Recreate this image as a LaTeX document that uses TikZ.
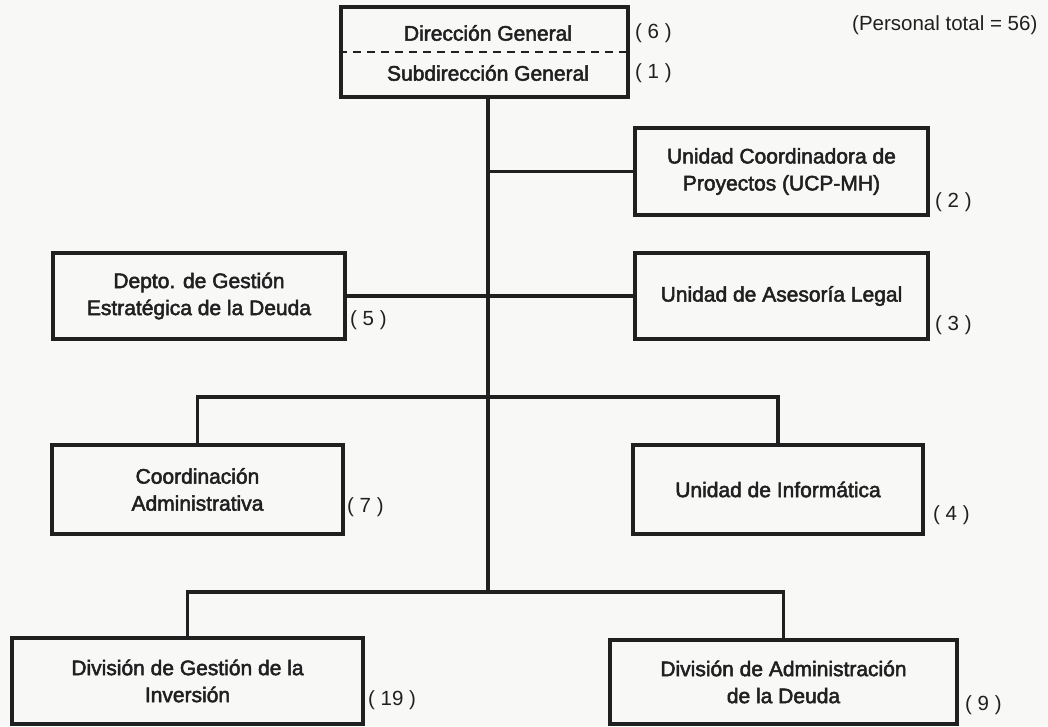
\documentclass[tikz,border=0pt]{standalone}
\usepackage{fontspec}
\setmainfont{Liberation Sans}
\newfontfamily\boxfont{Liberation Sans}[FakeBold=2.4]
\definecolor{ink}{HTML}{202020}
\definecolor{paper}{HTML}{F8F8F7}

\begin{document}
\begin{tikzpicture}[x=1pt,y=-1pt,
  unit/.style={draw=ink, line width=3.4pt, align=center, inner sep=0pt,
    font=\boxfont\fontsize{21}{27}\selectfont, text=ink},
  label/.style={inner sep=0pt, align=center,
    font=\boxfont\fontsize{21}{27}\selectfont, text=ink},
  count/.style={anchor=west, inner sep=0pt,
    font=\fontsize{20.5}{24}\selectfont, text=ink},
  link/.style={draw=ink, line width=3.4pt}]
\fill[paper] (0,0) rectangle (1048,726);
\useasboundingbox (0,0) rectangle (1048,726);

% direction
\node[unit, minimum width=287pt, minimum height=90pt] (dg) at (484.5,52) {};
\node[label] (dir) at (488,33) {Dirección General};
\node[label] (sub) at (488,73) {Subdirección General};
\draw[ink, line width=1.6pt, dash pattern=on 8pt off 6pt] (dg.west) -- (dg.east);
\node[count] (n6) at (635,33) {( 6 )};
\node[count] (n1) at (635,73) {( 1 )};
\node[count] (total) at (852,25) {(Personal total = 56)};

% staff units
\node[unit, minimum width=293pt, minimum height=87pt] (ucp) at (781.5,171.5)
  {Unidad Coordinadora de\\Proyectos (UCP-MH)};
\node[unit, minimum width=293pt, minimum height=86pt] (legal) at (781.5,296)
  {Unidad de Asesoría Legal};
\node[unit, minimum width=292pt, minimum height=86pt] (depto) at (199,296)
  {Depto. de Gestión\\Estratégica de la Deuda};
\node[count] (n2) at (935,202) {( 2 )};
\node[count] (n3) at (935,325) {( 3 )};
\node[count] (n5) at (350,320) {( 5 )};

\node[unit, minimum width=291pt, minimum height=89pt] (coord) at (197.5,489.5)
  {Coordinación\\Administrativa};
\node[unit, minimum width=290pt, minimum height=89pt] (info) at (778,489.5)
  {Unidad de Informática};
\node[count] (n7) at (347,507) {( 7 )};
\node[count] (n4) at (933,515) {( 4 )};

% line divisions
\node[unit, minimum width=351pt, minimum height=86pt] (invers) at (187.5,681)
  {División de Gestión de la\\Inversión};
\node[unit, minimum width=347pt, minimum height=84pt] (admin) at (783.5,682)
  {División de Administración\\de la Deuda};
\node[count] (n19) at (368,700) {( 19 )};
\node[count] (n9) at (965,705) {( 9 )};

% connectors
\coordinate (tb) at (488,592);
\coordinate (b1) at (488,397);
\draw[link] (dg.south -| tb) -- (tb);
\draw[link] (ucp.west) -- (ucp.west -| tb);
\draw[link] (depto.east) -- (legal.west);
\draw[link] (coord.north) |- (b1) -| (info.north);
\draw[link] (invers.north) |- (tb) -| (admin.north);
\end{tikzpicture}
\end{document}
